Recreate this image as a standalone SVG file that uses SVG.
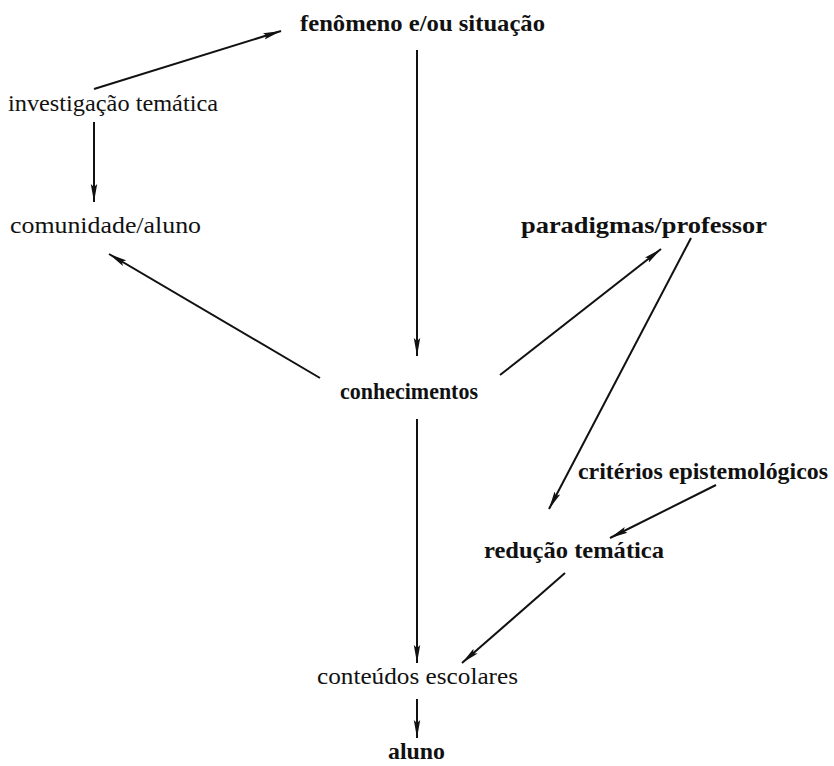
<svg xmlns="http://www.w3.org/2000/svg" width="834" height="766" viewBox="0 0 834 766">
<style>
text{font-family:"Liberation Serif","Times New Roman",serif;font-size:23px;fill:#111}
.b{font-weight:bold}
.c line{stroke:#111;stroke-width:2;fill:none}
</style>
<defs>
<marker id="ah" viewBox="0 0 18 8" refX="18" refY="4" markerWidth="18" markerHeight="8" markerUnits="userSpaceOnUse" orient="auto">
<path d="M0,0.8 L18,4 L0,7.2 L3,4 Z" fill="#111"/>
</marker>
</defs>
<rect width="834" height="766" fill="#fff"/>
<g class="c" id="connectors">
<line x1="94" y1="89" x2="281" y2="31" marker-end="url(#ah)"/>
<line x1="94" y1="122" x2="94" y2="202" marker-end="url(#ah)"/>
<line x1="417" y1="50" x2="417" y2="356" marker-end="url(#ah)"/>
<line x1="320" y1="378" x2="109" y2="254" marker-end="url(#ah)"/>
<line x1="500" y1="375" x2="661" y2="249" marker-end="url(#ah)"/>
<line x1="691" y1="238" x2="549" y2="509" marker-end="url(#ah)"/>
<line x1="716" y1="485" x2="610" y2="538" marker-end="url(#ah)"/>
<line x1="417" y1="419" x2="417" y2="663" marker-end="url(#ah)"/>
<line x1="565" y1="573" x2="462" y2="663" marker-end="url(#ah)"/>
<line x1="417" y1="699" x2="417" y2="738" marker-end="url(#ah)"/>
</g>
<g id="n1"><text class="b" x="300" y="31" textLength="245" lengthAdjust="spacingAndGlyphs">fenômeno e/ou situação</text></g>
<g id="n2"><text x="8" y="111" textLength="210" lengthAdjust="spacingAndGlyphs">investigação temática</text></g>
<g id="n3"><text x="10" y="233" textLength="191" lengthAdjust="spacingAndGlyphs">comunidade/aluno</text></g>
<g id="n4"><text class="b" x="521" y="233" textLength="246" lengthAdjust="spacingAndGlyphs">paradigmas/professor</text></g>
<g id="n5"><text class="b" x="340" y="399" textLength="138" lengthAdjust="spacingAndGlyphs">conhecimentos</text></g>
<g id="n6"><text class="b" x="578" y="479" textLength="250" lengthAdjust="spacingAndGlyphs">critérios epistemológicos</text></g>
<g id="n7"><text class="b" x="484" y="558" textLength="180" lengthAdjust="spacingAndGlyphs">redução temática</text></g>
<g id="n8"><text x="317" y="684" textLength="201" lengthAdjust="spacingAndGlyphs">conteúdos escolares</text></g>
<g id="n9"><text class="b" x="388" y="759" textLength="57" lengthAdjust="spacingAndGlyphs">aluno</text></g>
</svg>
